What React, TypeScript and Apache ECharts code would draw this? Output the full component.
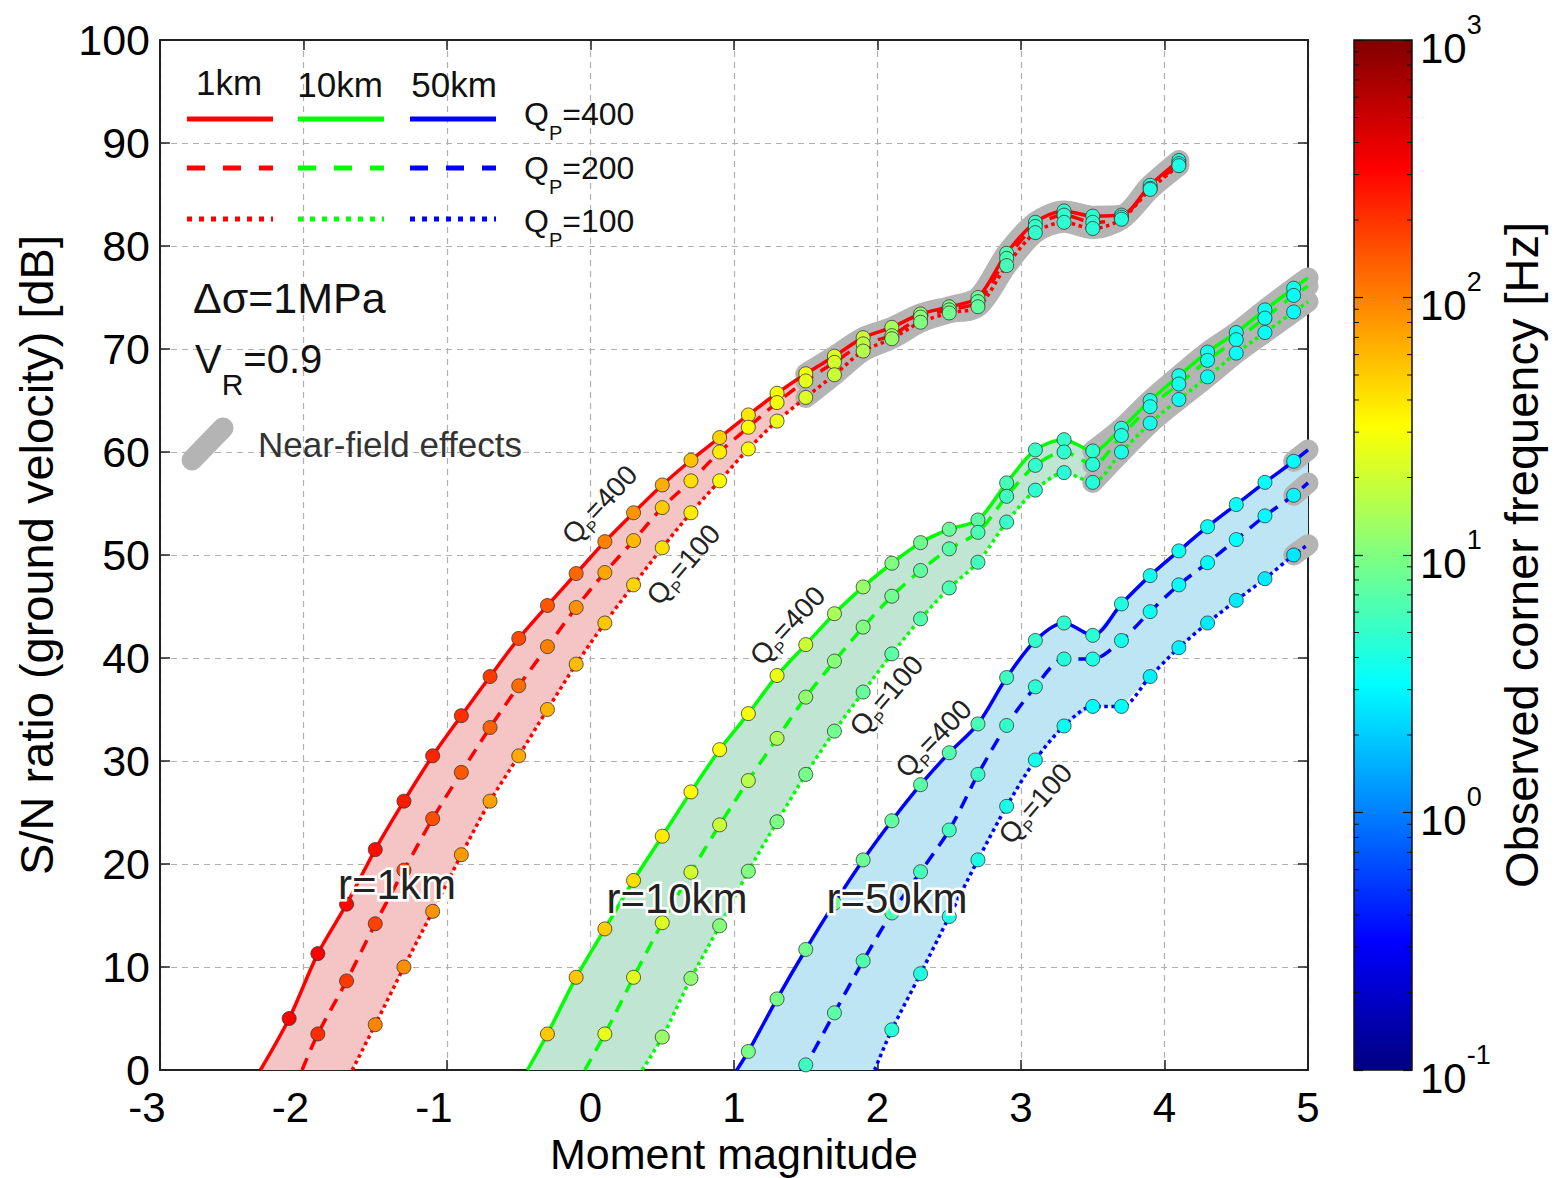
import React, { useEffect, useRef } from "react";
import * as echarts from "echarts";

const FF = '"Liberation Sans", Arial, Helvetica, sans-serif';

// Moment magnitudes at which the points are computed
const MAGS = [-2.1, -1.9, -1.7, -1.5, -1.3, -1.1, -0.9, -0.7, -0.5, -0.3, -0.1, 0.1, 0.3, 0.5, 0.7, 0.9,
  1.1, 1.3, 1.5, 1.7, 1.9, 2.1, 2.3, 2.5, 2.7, 2.9, 3.1, 3.3, 3.5, 3.7, 3.9, 4.1, 4.3, 4.5, 4.7, 4.9];

// r = 1 km
const RED_Q400 = [5.0, 11.3, 16.1, 21.4, 26.1, 30.5, 34.4, 38.2, 41.9, 45.1, 48.2, 51.3, 54.1, 56.8, 59.2, 61.4, 63.6, 65.7, 67.6, 69.3, 71.1, 72.1, 73.4, 74.1, 75.0, 79.3, 82.3, 83.4, 82.9, 83.0, 85.9, 88.3];
const RED_Q200 = [3.5, 8.65, 14.2, 19.4, 24.4, 28.9, 33.25, 37.3, 41.1, 44.9, 48.3, 51.4, 54.6, 57.2, 60.0, 62.4, 64.8, 66.9, 68.7, 70.5, 71.3, 73.1, 73.8, 74.6, 78.8, 81.9, 83.0, 82.3, 82.8, 85.6, 88.0];
const RED_Q100 = [4.4, 10.0, 15.4, 20.9, 26.1, 30.5, 35.0, 39.4, 43.4, 47.1, 50.7, 54.1, 57.2, 60.3, 63.0, 65.3, 67.5, 69.8, 71.0, 72.6, 73.5, 74.1, 78.1, 81.3, 82.3, 81.7, 82.6, 85.5, 87.8];
// log10 of observed corner frequency [Hz]
const RED_Q400_FC = [2.5, 2.5, 2.48, 2.45, 2.4, 2.36, 2.32, 2.28, 2.22, 2.16, 2.1, 2.0, 1.92, 1.82, 1.74, 1.68, 1.6, 1.52, 1.45, 1.36, 1.28, 1.15, 1.05, 0.98, 0.92, 0.82, 0.72, 0.7, 0.68, 0.66, 0.64, 0.62];
const RED_Q200_FC = [2.33, 2.28, 2.25, 2.22, 2.2, 2.16, 2.12, 2.08, 2.0, 1.93, 1.85, 1.77, 1.7, 1.63, 1.57, 1.52, 1.47, 1.4, 1.32, 1.24, 1.12, 1.03, 0.96, 0.9, 0.8, 0.71, 0.69, 0.67, 0.65, 0.63, 0.61];
const RED_Q100_FC = [1.98, 1.95, 1.93, 1.9, 1.87, 1.84, 1.8, 1.76, 1.72, 1.67, 1.62, 1.57, 1.52, 1.48, 1.43, 1.36, 1.28, 1.2, 1.1, 1.0, 0.94, 0.88, 0.78, 0.7, 0.68, 0.66, 0.64, 0.62, 0.6];

// r = 10 km
const GREEN_Q400 = [3.5, 9.0, 13.7, 18.4, 22.7, 27.0, 31.1, 34.6, 38.3, 41.3, 44.3, 46.9, 49.2, 51.2, 52.5, 53.4, 57.0, 60.2, 61.2, 60.1, 62.3, 65.0, 67.4, 69.7, 71.6, 73.8, 75.9];
const GREEN_Q200 = [3.5, 9.0, 14.3, 19.2, 23.8, 28.1, 32.2, 36.2, 39.7, 43.0, 46.0, 48.5, 50.6, 52.2, 55.7, 58.7, 60.0, 58.8, 61.6, 64.4, 66.6, 68.9, 70.9, 73.0, 75.2];
const GREEN_Q100 = [3.2, 8.9, 14.0, 19.3, 24.1, 28.7, 32.9, 36.7, 40.4, 43.8, 46.8, 49.3, 53.2, 56.3, 58.0, 57.05, 60.0, 62.8, 65.1, 67.3, 69.6, 71.6, 73.6];
const GREEN_Q400_FC = [1.72, 1.72, 1.7, 1.63, 1.58, 1.5, 1.48, 1.47, 1.42, 1.3, 1.16, 1.1, 1.0, 0.95, 0.9, 0.85, 0.78, 0.72, 0.7, 0.68, 0.64, 0.62, 0.6, 0.58, 0.57, 0.56, 0.55];
const GREEN_Q200_FC = [1.4, 1.38, 1.36, 1.32, 1.28, 1.22, 1.18, 1.08, 1.03, 1.0, 0.94, 0.88, 0.84, 0.8, 0.75, 0.7, 0.68, 0.66, 0.62, 0.6, 0.58, 0.56, 0.55, 0.54, 0.53];
const GREEN_Q100_FC = [1.1, 1.06, 1.02, 1.0, 0.98, 0.96, 0.94, 0.89, 0.86, 0.83, 0.8, 0.76, 0.72, 0.68, 0.66, 0.64, 0.6, 0.58, 0.56, 0.54, 0.53, 0.52, 0.51];

// r = 50 km
const BLUE_Q400 = [1.8, 6.9, 11.7, 16.2, 20.4, 24.2, 27.7, 30.8, 33.6, 38.1, 41.7, 43.4, 42.2, 45.25, 48.0, 50.4, 52.75, 54.9, 57.05, 59.1];
const BLUE_Q200 = [0.5, 5.55, 10.6, 15.25, 19.25, 23.3, 28.7, 33.45, 37.2, 39.9, 39.9, 41.7, 44.5, 47.1, 49.25, 51.5, 53.8, 55.8];
const BLUE_Q100 = [3.9, 9.35, 14.9, 20.4, 25.6, 30.1, 33.4, 35.3, 35.3, 38.2, 41.0, 43.4, 45.6, 47.7, 50.0];
const BLUE_Q400_FC = [0.97, 0.96, 0.95, 0.94, 0.92, 0.88, 0.85, 0.82, 0.78, 0.74, 0.7, 0.68, 0.66, 0.62, 0.58, 0.56, 0.54, 0.53, 0.52, 0.5];
const BLUE_Q200_FC = [0.74, 0.85, 0.82, 0.8, 0.77, 0.75, 0.72, 0.7, 0.67, 0.64, 0.62, 0.58, 0.55, 0.52, 0.5, 0.5, 0.49, 0.48];
const BLUE_Q100_FC = [0.66, 0.62, 0.62, 0.6, 0.6, 0.58, 0.55, 0.5, 0.5, 0.45, 0.44, 0.42, 0.43, 0.42, 0.41];

// where each curve crosses 0 dB, and its value at the right edge (M = 5)
const START_M = { r400: -2.3, r200: -2.01, r100: -1.66, g400: -0.44, g200: -0.04, g100: 0.36, b400: 1.02, b200: 1.46, b100: 1.98 };
const END_DB = { g400: 76.9, g200: 76.1, g100: 74.6, b400: 60.2, b200: 57.0, b100: 51.0 };

const CB_DECADES = [-1, 0, 1, 2];
const CB_MINOR_K = [2, 3, 4, 5, 6, 7, 8, 9];

const JET = ["#000080", "#0000ff", "#0080ff", "#00ffff", "#80ff80", "#ffff00", "#ff8000", "#ff0000", "#800000"];

type Curve = { start: number; vals: number[]; fc: number[]; x0: number; yEnd: number | null; dash: any };
type Group = { color: string; fill: string; nfFrom: number; curves: Curve[] };

const DASH400: any = "solid";
const DASH200: any = [13, 9];
const DASH100: any = [3.5, 3.5];

const GROUPS: Group[] = [
  {
    color: "#ff0000", fill: "#f5c4c4", nfFrom: 1.5,
    curves: [
      { start: 0, vals: RED_Q400, fc: RED_Q400_FC, x0: START_M.r400, yEnd: null, dash: DASH400 },
      { start: 1, vals: RED_Q200, fc: RED_Q200_FC, x0: START_M.r200, yEnd: null, dash: DASH200 },
      { start: 3, vals: RED_Q100, fc: RED_Q100_FC, x0: START_M.r100, yEnd: null, dash: DASH100 },
    ],
  },
  {
    color: "#00ff00", fill: "#c0e5d2", nfFrom: 3.5,
    curves: [
      { start: 9, vals: GREEN_Q400, fc: GREEN_Q400_FC, x0: START_M.g400, yEnd: END_DB.g400, dash: DASH400 },
      { start: 11, vals: GREEN_Q200, fc: GREEN_Q200_FC, x0: START_M.g200, yEnd: END_DB.g200, dash: DASH200 },
      { start: 13, vals: GREEN_Q100, fc: GREEN_Q100_FC, x0: START_M.g100, yEnd: END_DB.g100, dash: DASH100 },
    ],
  },
  {
    color: "#0000ff", fill: "#bde5f4", nfFrom: 4.9,
    curves: [
      { start: 16, vals: BLUE_Q400, fc: BLUE_Q400_FC, x0: START_M.b400, yEnd: END_DB.b400, dash: DASH400 },
      { start: 18, vals: BLUE_Q200, fc: BLUE_Q200_FC, x0: START_M.b200, yEnd: END_DB.b200, dash: DASH200 },
      { start: 21, vals: BLUE_Q100, fc: BLUE_Q100_FC, x0: START_M.b100, yEnd: END_DB.b100, dash: DASH100 },
    ],
  },
];

const pts = (c: Curve) => c.vals.map((v, i) => [MAGS[c.start + i], v]);
const lineData = (c: Curve) => {
  const d: number[][] = [[c.x0, 0], ...pts(c)];
  if (c.yEnd != null) d.push([5, c.yEnd]);
  return d;
};
const nfData = (c: Curve, from: number) => {
  const d = pts(c).filter((p) => p[0] >= from - 1e-9);
  if (c.yEnd != null) d.push([5, c.yEnd]);
  return d;
};

// Text with a subscript. Block is top-aligned: main glyph centre = top + fs/2, subscript centre = top + fs/2 + d
function subStyle(main1: string, sub: string, main2: string, fs: number, sfs: number, d: number, color = "#111") {
  const L = d + fs / 2 + sfs / 2;
  return {
    text: `{a|${main1}}{b|${sub}}{a|${main2}}`,
    rich: {
      a: { fontSize: fs, fontFamily: FF, fill: color, lineHeight: L, verticalAlign: "top" },
      b: { fontSize: sfs, fontFamily: FF, fill: color, lineHeight: sfs, verticalAlign: "bottom" },
    },
    verticalAlign: "top",
  };
}

function buildOption() {
  const series: any[] = [];
  GROUPS.forEach((g) => {
    series.push({
      type: "custom",
      coordinateSystem: "cartesian2d",
      xAxisIndex: 0,
      yAxisIndex: 0,
      z: 1,
      silent: true,
      clip: true,
      data: [[0, 0]],
      renderItem: (_p: any, api: any) => {
        const up = lineData(g.curves[0]).map((p) => api.coord(p));
        const lo = lineData(g.curves[2]).map((p) => api.coord(p)).reverse();
        return { type: "polygon", shape: { points: up.concat(lo) }, style: { fill: g.fill } };
      },
    });
  });
  GROUPS.forEach((g) => {
    g.curves.forEach((c) => {
      series.push({
        type: "line", xAxisIndex: 0, yAxisIndex: 0, z: 2, silent: true, symbol: "none", smooth: 0.3,
        data: nfData(c, g.nfFrom),
        lineStyle: { color: "#b4b4b4", width: 21, cap: "round", join: "round" },
      });
    });
  });
  GROUPS.forEach((g) => {
    g.curves.forEach((c) => {
      series.push({
        type: "line", xAxisIndex: 0, yAxisIndex: 0, z: 3, silent: true, symbol: "none", smooth: 0.3,
        data: lineData(c),
        lineStyle: { color: g.color, width: 3.5, type: c.dash },
      });
    });
  });
  const scatterData: number[][] = [];
  GROUPS.forEach((g) => g.curves.forEach((c) => c.vals.forEach((v, i) => scatterData.push([MAGS[c.start + i], v, c.fc[i]]))));
  const scatterIndex = series.length;
  series.push({
    type: "scatter", xAxisIndex: 0, yAxisIndex: 0, z: 4, silent: true, symbol: "circle", symbolSize: 14,
    data: scatterData,
    itemStyle: { borderColor: "#333", borderWidth: 0.8, opacity: 1 },
  });
  // colorbar
  series.push({
    type: "custom", coordinateSystem: "cartesian2d", xAxisIndex: 2, yAxisIndex: 2, z: 1, silent: true,
    data: [[0, 0]],
    renderItem: (_p: any, api: any) => {
      const tl = api.coord([0, 3]);
      const br = api.coord([1, -1]);
      const children: any[] = [
        {
          type: "rect",
          shape: { x: tl[0], y: tl[1], width: br[0] - tl[0], height: br[1] - tl[1] },
          style: {
            fill: new echarts.graphic.LinearGradient(0, 1, 0, 0, JET.map((c, i) => ({ offset: i / (JET.length - 1), color: c }))),
            stroke: "#111", lineWidth: 1.5,
          },
        },
      ];
      CB_DECADES.forEach((d) => CB_MINOR_K.forEach((k) => {
        const y = api.coord([0, d + Math.log10(k)])[1];
        children.push({ type: "line", shape: { x1: tl[0], y1: y, x2: tl[0] + 5, y2: y }, style: { stroke: "#111", lineWidth: 1 } });
        children.push({ type: "line", shape: { x1: br[0] - 5, y1: y, x2: br[0], y2: y }, style: { stroke: "#111", lineWidth: 1 } });
      }));
      return { type: "group", children };
    },
  });

  const axisLine = { show: true, onZero: false, lineStyle: { color: "#222", width: 2 } };
  const axisTick = { show: true, inside: true, length: 10, lineStyle: { color: "#222", width: 1.5 } };
  const split = { show: true, lineStyle: { color: "#b0b0b0", width: 1.2, type: [6, 5] } };

  const legendLines: any[] = [];
  const LEG_X = [[187, 273, "#ff0000"], [298, 384, "#00ff00"], [410, 496, "#0000ff"]];
  const LEG_Y = [[119, null], [168, [18, 18]], [219, [5, 7]]];
  LEG_X.forEach(([x1, x2, col]) => LEG_Y.forEach(([y, dash]) => {
    legendLines.push({
      type: "line", z: 100, silent: true,
      shape: { x1, y1: y, x2, y2: y },
      style: { stroke: col, lineWidth: 5, lineDash: dash || undefined },
    });
  }));

  const rot = (deg: number) => (deg * Math.PI) / 180;
  const qRot = (x: number, y: number, deg: number, val: string) => {
    const s = subStyle("Q", "P", "=" + val, 28, 16, 10, "#222");
    return {
      type: "text", z: 100, silent: true, x, y, rotation: rot(deg),
      style: { ...s, align: "center", verticalAlign: "middle" },
    };
  };
  const rLabel = (x: number, y: number, t: string) => ({
    type: "text", z: 100, silent: true, x, y,
    style: { text: t, fontSize: 42, fontFamily: FF, fill: "#222", stroke: "#fff", lineWidth: 5, align: "center", verticalAlign: "middle" },
  });
  const qLeg = (y: number, val: string) => ({
    type: "text", z: 100, silent: true, x: 524, y: y - 16,
    style: { ...subStyle("Q", "P", "=" + val, 32, 20, 19), align: "left" },
  });

  const graphic: any[] = [
    { type: "text", z: 100, silent: true, x: 229, y: 82, style: { text: "1km", fontSize: 35, fontFamily: FF, fill: "#111", align: "center", verticalAlign: "middle" } },
    { type: "text", z: 100, silent: true, x: 340, y: 84, style: { text: "10km", fontSize: 35, fontFamily: FF, fill: "#111", align: "center", verticalAlign: "middle" } },
    { type: "text", z: 100, silent: true, x: 454, y: 84, style: { text: "50km", fontSize: 35, fontFamily: FF, fill: "#111", align: "center", verticalAlign: "middle" } },
    ...legendLines,
    qLeg(114, "400"),
    qLeg(168, "200"),
    qLeg(221, "100"),
    { type: "text", z: 100, silent: true, x: 193, y: 298, style: { text: "Δσ=1MPa", fontSize: 43, fontFamily: FF, fill: "#111", align: "left", verticalAlign: "middle" } },
    { type: "text", z: 100, silent: true, x: 195, y: 359 - 20, style: { ...subStyle("V", "R", "=0.9", 40, 30, 25), align: "left" } },
    { type: "line", z: 100, silent: true, shape: { x1: 192, y1: 460, x2: 223, y2: 428 }, style: { stroke: "#b4b4b4", lineWidth: 21, lineCap: "round" } },
    { type: "text", z: 100, silent: true, x: 258, y: 444, style: { text: "Near-field effects", fontSize: 35, fontFamily: FF, fill: "#333", align: "left", verticalAlign: "middle" } },
    qRot(601, 506, 47, "400"),
    qRot(685, 566, 49, "100"),
    qRot(789, 627, 47, "400"),
    qRot(888, 697, 49, "100"),
    qRot(935, 740, 46, "400"),
    qRot(1037, 805, 49, "100"),
    rLabel(397, 884, "r=1km"),
    rLabel(677, 898, "r=10km"),
    rLabel(897, 898, "r=50km"),
  ];

  return {
    animation: false,
    backgroundColor: "#ffffff",
    textStyle: { fontFamily: FF },
    grid: [
      { left: 160, top: 40, width: 1148, height: 1030, containLabel: false, outerBoundsMode: "none", show: false },
      { left: 1354, top: 40, width: 58, height: 1030, containLabel: false, outerBoundsMode: "none", show: false },
    ],
    xAxis: [
      {
        gridIndex: 0, type: "value", min: -3, max: 5, interval: 1, position: "bottom",
        axisLine, axisTick, splitLine: split,
        axisLabel: {
          margin: 20, color: "#000", fontSize: 42, fontFamily: FF, lineHeight: 34,
          formatter: (v: number) => (v < 0 ? `{n|${v}}` : `{p|${v}}`),
          rich: {
            n: { fontSize: 42, fontFamily: FF, color: "#000", lineHeight: 34, padding: [0, 26, 0, 0] },
            p: { fontSize: 42, fontFamily: FF, color: "#000", lineHeight: 34 },
          },
        },
        name: "Moment magnitude", nameLocation: "middle", nameGap: 64, nameMoveOverlap: false,
        nameTextStyle: { fontSize: 43, fontFamily: FF, color: "#000", lineHeight: 40, verticalAlign: "top" },
      },
      {
        gridIndex: 0, type: "value", min: -3, max: 5, interval: 1, position: "top",
        axisLine, axisTick, splitLine: { show: false }, axisLabel: { show: false },
      },
      { gridIndex: 1, type: "value", min: 0, max: 1, show: false },
    ],
    yAxis: [
      {
        gridIndex: 0, type: "value", min: 0, max: 100, interval: 10, position: "left",
        axisLine, axisTick, splitLine: split,
        axisLabel: { margin: 10, color: "#000", fontSize: 43, fontFamily: FF, lineHeight: 30 },
        name: "S/N ratio (ground velocity) [dB]", nameLocation: "middle", nameGap: 100,
        nameTextStyle: { fontSize: 47, fontFamily: FF, color: "#000" },
      },
      {
        gridIndex: 0, type: "value", min: 0, max: 100, interval: 10, position: "right",
        axisLine, axisTick, splitLine: { show: false }, axisLabel: { show: false },
      },
      {
        gridIndex: 1, type: "value", min: -1, max: 3, interval: 1, position: "right", z: 10,
        axisLine: { show: false, onZero: false },
        axisTick: { show: true, inside: true, length: 9, lineStyle: { color: "#111", width: 1.2 } },
        splitLine: { show: false },
        axisLabel: {
          margin: 8,
          formatter: (v: number) => `{b|10}{s|${v}}`,
          rich: {
            b: { fontSize: 42, fontFamily: FF, color: "#000", lineHeight: 58, verticalAlign: "bottom" },
            s: { fontSize: 27, fontFamily: FF, color: "#000", lineHeight: 27, verticalAlign: "top" },
          },
        },
        name: "Observed corner frequency [Hz]", nameLocation: "middle", nameGap: 86, nameRotate: 90,
        nameTextStyle: { fontSize: 47, fontFamily: FF, color: "#000" },
      },
      {
        gridIndex: 1, type: "value", min: -1, max: 3, interval: 1, position: "left", z: 10,
        axisLine: { show: false, onZero: false },
        axisTick: { show: true, inside: true, length: 9, lineStyle: { color: "#111", width: 1.2 } },
        splitLine: { show: false }, axisLabel: { show: false },
      },
    ],
    visualMap: {
      type: "continuous", show: false, dimension: 2, min: -1, max: 3,
      seriesIndex: [scatterIndex], inRange: { color: JET },
    },
    series,
    graphic,
  };
}

export default function App() {
  const ref = useRef<HTMLDivElement>(null);
  useEffect(() => {
    const chart = echarts.init(ref.current!, null, { renderer: "svg" });
    chart.setOption(buildOption() as any);
    return () => chart.dispose();
  }, []);
  return <div ref={ref} style={{ position: "fixed", left: 0, top: 0, width: 1559, height: 1178, background: "#fff" }} />;
}
